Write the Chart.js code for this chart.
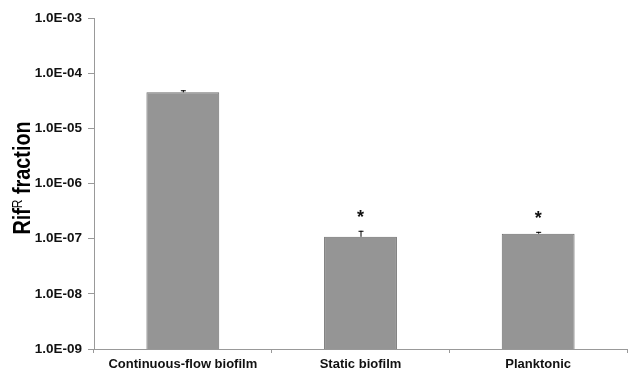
<!DOCTYPE html>
<html>
<head>
<meta charset="utf-8">
<script src="https://cdn.jsdelivr.net/npm/chart.js@4"></script>
<style>
  html, body { margin: 0; padding: 0; background: #fff; }
  #wrap { width: 633px; height: 373px; }
</style>
</head>
<body>
<div id="wrap"><canvas id="rifChart" width="633" height="373"></canvas></div>
<script>
const categories = ['Continuous-flow biofilm', 'Static biofilm', 'Planktonic'];
const fractions = [4.5e-5, 1.08e-7, 1.23e-7];
const errorsUp = [0.4e-5, 0.31e-7, 0.1e-7];
const significant = [false, true, true];
const tickValues = [1e-9, 1e-8, 1e-7, 1e-6, 1e-5, 1e-4, 1e-3];

// error bars, asterisks and the y title with superscript
const extras = {
  id: 'extras',
  afterDatasetsDraw(chart) {
    const ctx = chart.ctx;
    const y = chart.scales.y;
    const meta = chart.getDatasetMeta(0);
    ctx.save();
    meta.data.forEach((bar, i) => {
      const top = y.getPixelForValue(fractions[i]);
      const cap = y.getPixelForValue(fractions[i] + errorsUp[i]);
      ctx.strokeStyle = '#000';
      ctx.lineWidth = 1;
      ctx.beginPath();
      ctx.moveTo(bar.x + 0.5, top);
      ctx.lineTo(bar.x + 0.5, cap);
      ctx.moveTo(bar.x - 2, cap + 0.5);
      ctx.lineTo(bar.x + 3, cap + 0.5);
      ctx.stroke();
      if (significant[i]) {
        ctx.fillStyle = '#111';
        ctx.font = 'bold 18px "Liberation Sans"';
        ctx.textAlign = 'center';
        ctx.textBaseline = 'middle';
        ctx.fillText('*', bar.x, cap - 13);
      }
    });
    // y title, squeezed a little along its length like the original
    ctx.translate(24, 178);
    ctx.rotate(-Math.PI / 2);
    ctx.scale(0.86, 1);
    ctx.fillStyle = '#000';
    ctx.textBaseline = 'middle';
    ctx.textAlign = 'left';
    const big = 'bold 23px "Liberation Sans"';
    const small = '14px "Liberation Sans"';
    ctx.font = big;
    const w1 = ctx.measureText('Rif').width;
    const w3 = ctx.measureText(' fraction').width;
    ctx.font = small;
    const w2 = ctx.measureText('R').width;
    let x0 = -(w1 + w2 + w3) / 2;
    ctx.font = big;
    ctx.fillText('Rif', x0, 0);
    ctx.font = small;
    ctx.fillText('R', x0 + w1, -6);
    ctx.font = big;
    ctx.fillText(' fraction', x0 + w1 + w2, 0);
    ctx.restore();
  }
};

new Chart(document.getElementById('rifChart'), {
  type: 'bar',
  data: {
    labels: categories,
    datasets: [{
      data: fractions,
      backgroundColor: '#959595',
      borderColor: '#6e6e6e',
      borderWidth: 1,
      categoryPercentage: 1,
      barPercentage: 0.41
    }]
  },
  options: {
    responsive: false,
    animation: false,
    layout: { padding: { left: 0, top: 18, right: 6, bottom: 0 } },
    plugins: { legend: { display: false }, tooltip: { enabled: false } },
    scales: {
      x: {
        grid: { display: true, drawOnChartArea: false, offset: true, tickLength: 4, color: '#999' },
        border: { color: '#999', width: 1 },
        ticks: { color: '#111', font: { family: 'Liberation Sans', size: 13, weight: 'bold' }, padding: 4, maxRotation: 0 },
        afterFit(s) { s.height = 24; }
      },
      y: {
        type: 'logarithmic',
        min: 1e-9,
        max: 1e-3,
        grid: { display: true, drawOnChartArea: false, tickLength: 6, color: '#999' },
        border: { color: '#999', width: 1 },
        afterBuildTicks(s) { s.ticks = tickValues.map(v => ({ value: v })); },
        ticks: {
          color: '#111',
          font: { family: 'Liberation Sans', size: 13.5, weight: 'bold' },
          padding: 6,
          callback: v => {
            const e = Math.round(Math.log10(v));
            return '1.0E-' + String(-e).padStart(2, '0');
          }
        },
        afterFit(s) { s.width = 94; }
      }
    }
  },
  plugins: [extras]
});
</script>
</body>
</html>
